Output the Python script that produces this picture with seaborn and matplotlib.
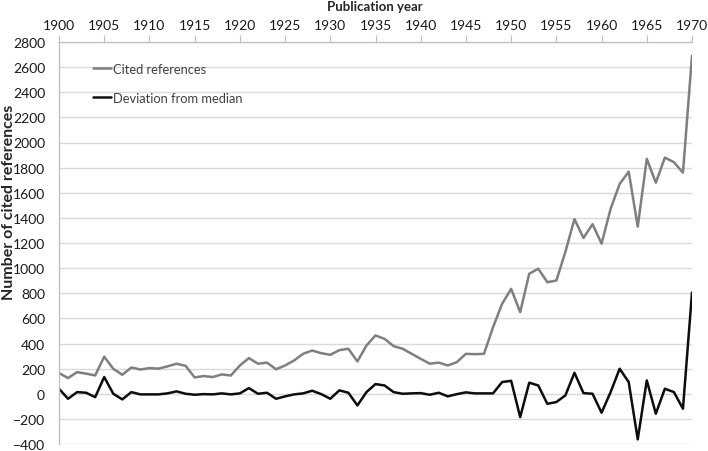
import numpy as np
import pandas as pd
import matplotlib
matplotlib.use('Agg')
import matplotlib.pyplot as plt
import seaborn as sns

years = list(range(1900, 1971))

# cited references per publication year
cited = [165, 125, 172, 160, 146, 295, 199, 151, 209, 193,
         204, 200, 218, 239, 222, 130, 141, 133, 154, 145,
         225, 284, 239, 248, 195, 225, 265, 318, 344, 323,
         310, 347, 358, 257, 384, 464, 437, 379, 358, 318,
         278, 239, 248, 225, 252, 318, 315, 318, 530, 716,
         835, 650, 955, 995, 888, 901, 1130, 1390, 1240, 1350,
         1195, 1472, 1670, 1768, 1330, 1870, 1680, 1880, 1843, 1760,
         2690]

# deviation from median
deviation = [40, -40, 13, 8, -27, 133, 0, -45, 13, -5,
             -5, -5, 3, 19, 0, -8, -3, -5, 3, -5,
             3, 45, 0, 8, -40, -21, -5, 3, 24, -3,
             -40, 27, 8, -93, 13, 77, 66, 13, 0, 3,
             5, -8, 8, -21, -3, 11, 3, 3, 3, 93,
             103, -186, 88, 66, -80, -66, -13, 167, 5, 0,
             -151, 13, 199, 93, -363, 106, -159, 40, 13, -119,
             805]

series_names = ['Cited references', 'Deviation from median']
colors = ['#7f7f7f', '#0d0d0d']

df = pd.concat([
    pd.DataFrame({'year': years, 'value': cited, 'series': series_names[0]}),
    pd.DataFrame({'year': years, 'value': deviation, 'series': series_names[1]}),
])

sns.set_style('white')
plt.rcParams['font.family'] = ['Lato', 'DejaVu Sans']

fig = plt.figure(figsize=(7.08, 4.52), dpi=100)
ax = fig.add_axes([59 / 708, 1 - 445 / 452, (692 - 59) / 708, (445 - 43) / 452])

sns.lineplot(data=df, x='year', y='value', hue='series', palette=colors,
             linewidth=1.8, ax=ax, legend=False)

ax.set_xlim(1900, 1970)
ax.set_ylim(-400, 2800)
ax.set_xticks(range(1900, 1971, 5))
ax.set_yticks(range(-400, 2801, 200))
ax.xaxis.tick_top()
ax.tick_params(axis='both', labelsize=10, colors='#bfbfbf', labelcolor='#1a1a1a',
               length=5, width=0.8, direction='out')
ax.tick_params(axis='x', pad=3)
ax.tick_params(axis='y', pad=5)
ax.yaxis.grid(True, color='#d9d9d9', linewidth=1)
ax.xaxis.grid(False)
for side in ['right', 'bottom']:
    ax.spines[side].set_visible(False)
for side in ['left', 'top']:
    ax.spines[side].set_color('#bfbfbf')
    ax.spines[side].set_linewidth(0.9)
ax.set_xlabel('')
ax.set_ylabel('')

handles = [plt.Line2D([], [], color=c, linewidth=1.8) for c in colors]
ax.legend(handles, series_names, loc='upper left', bbox_to_anchor=(0.035, 0.977),
          frameon=False, fontsize=9.3, handlelength=1.4, handletextpad=0.15,
          labelspacing=1.3, labelcolor='#404040')

fig.text(375 / 708, 1 - 7 / 452, 'Publication year', ha='center', va='center',
         fontsize=9.5, fontweight='bold')
fig.text(9 / 708, 1 - 202 / 452, 'Number of cited references', ha='center',
         va='center', rotation=90, fontsize=11.5, fontweight='bold')

fig.savefig('out.png', dpi=100)
